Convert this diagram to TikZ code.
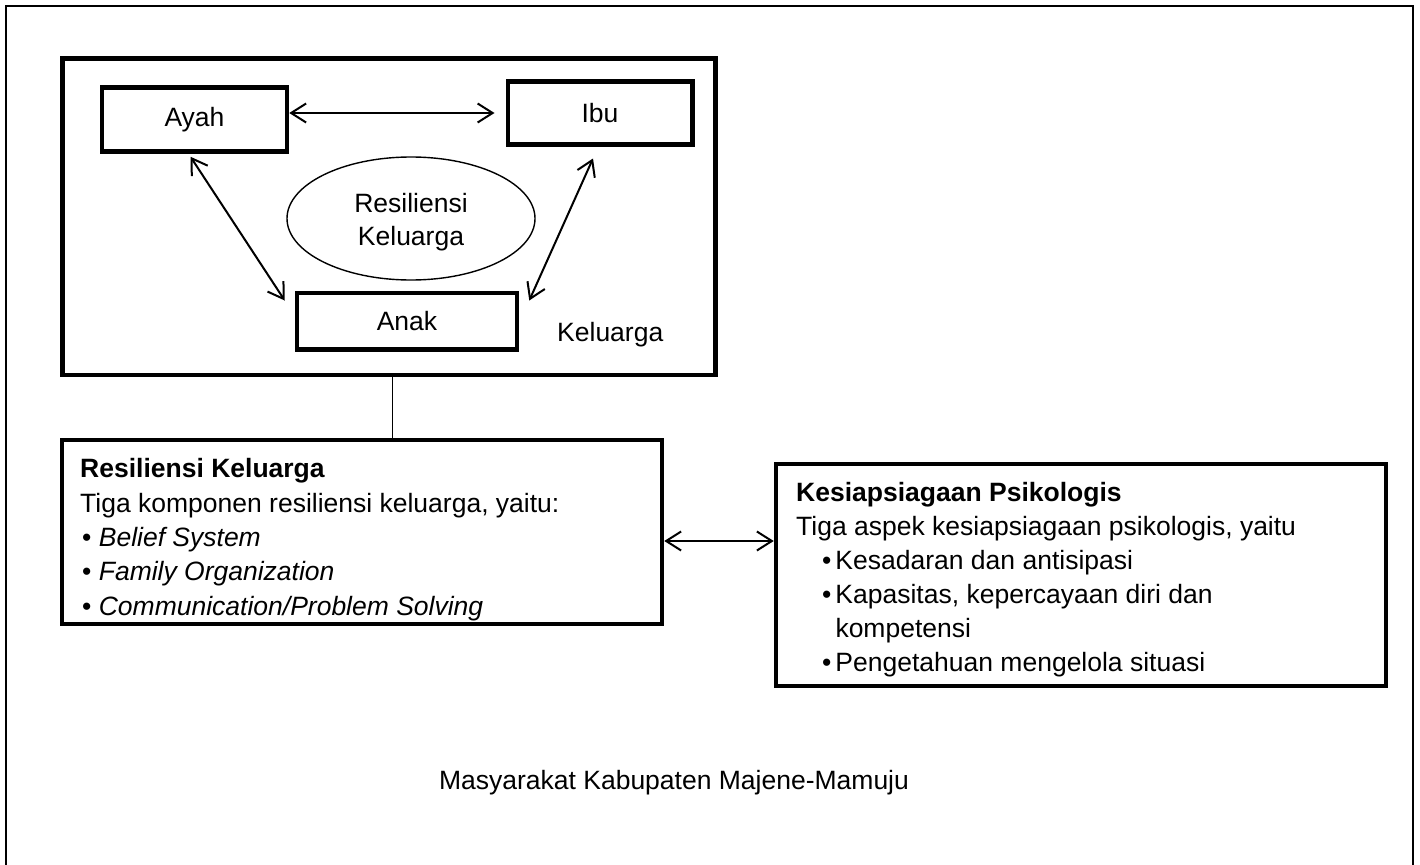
\documentclass[tikz,border=0pt]{standalone}
\usepackage{fontspec}
\setmainfont{Liberation Sans}
\usetikzlibrary{arrows.meta,shapes.geometric,calc}
\begin{document}
\begin{tikzpicture}[x=1pt,y=-1pt,
  thickbox/.style={draw,line width=4.5pt,rectangle,inner sep=0pt},
  txt/.style={font=\fontsize{26.5}{34.5}\selectfont,inner sep=0pt},
  arr/.style={{Straight Barb[length=15pt,width=19pt]}-{Straight Barb[length=15pt,width=19pt]},line width=2pt},
  thinline/.style={line width=1.4pt}]
\useasboundingbox (0,0) rectangle (1420,864);
\draw[line width=2.2pt] (6,880) -- (6,6) -- (1413,6) -- (1413,880);
% family box
\node[thickbox,minimum width=653pt,minimum height=316.5pt] (keluarga) at (389,216.75) {};
\node[thickbox,minimum width=185pt,minimum height=64pt,txt] (ayah) at (194.5,119.5) {\raisebox{-2pt}{Ayah}};
\node[thickbox,minimum width=184.5pt,minimum height=62.5pt,txt] (ibu) at (600,113) {Ibu};
\node[thickbox,minimum width=220pt,minimum height=56.5pt,txt] (anak) at (407,321) {Anak};
\node[ellipse,draw,thinline,minimum width=248pt,minimum height=123pt,inner sep=0pt] (ell) at (411,218.5) {};
\node[txt,align=center,anchor=north,font=\fontsize{26.5}{33}\selectfont] (elltext) at (411,193.5) {Resiliensi\\Keluarga};
\node[txt,anchor=west] (kellabel) at (557,335) {Keluarga};
\draw[arr] ([yshift=6.5pt]ayah.east) -- ([shift={(-11pt,0pt)}]ibu.west);
\draw[arr] ([shift={(-4pt,-3pt)}]ayah.south) -- ([shift={(-10pt,-10pt)}]anak.north west);
\draw[arr] ([shift={(-7pt,-12pt)}]ibu.south) -- ([shift={(10pt,-10pt)}]anak.north east);
% lower boxes
\node[thickbox,minimum width=600pt,minimum height=184pt] (resil) at (362,532) {};
\node[txt,anchor=north west,align=left,font=\fontsize{26.5}{34.3}\selectfont] (resiltext) at (80,458.5)
{\textbf{Resiliensi Keluarga}\\
Tiga komponen resiliensi keluarga, yaitu:\\
\hspace*{2pt}• \textit{Belief System}\\
\hspace*{2pt}• \textit{Family Organization}\\
\hspace*{2pt}• \textit{Communication/Problem Solving}};
\node[thickbox,minimum width=610pt,minimum height=222pt] (kesiap) at (1081,575) {};
\node[txt,anchor=north west,align=left,font=\fontsize{26.5}{34}\selectfont] (kesiaptext) at (796,482.5)
{\textbf{Kesiapsiagaan Psikologis}\\
Tiga aspek kesiapsiagaan psikologis, yaitu\\
\hspace*{26pt}•\hspace{4pt}Kesadaran dan antisipasi\\
\hspace*{26pt}•\hspace{4pt}Kapasitas, kepercayaan diri dan\\
\hspace*{39.3pt}kompetensi\\
\hspace*{26pt}•\hspace{4pt}Pengetahuan mengelola situasi};
\draw[thinline] ([xshift=3.7pt]keluarga.south) -- ([xshift=3.7pt]keluarga.south |- resil.north);
\draw[arr] ([yshift=-9pt]resil.east) -- ([yshift=34pt]kesiap.west);
\node[txt] (masy) at (674,783) {Masyarakat Kabupaten Majene-Mamuju};
\end{tikzpicture}
\end{document}
